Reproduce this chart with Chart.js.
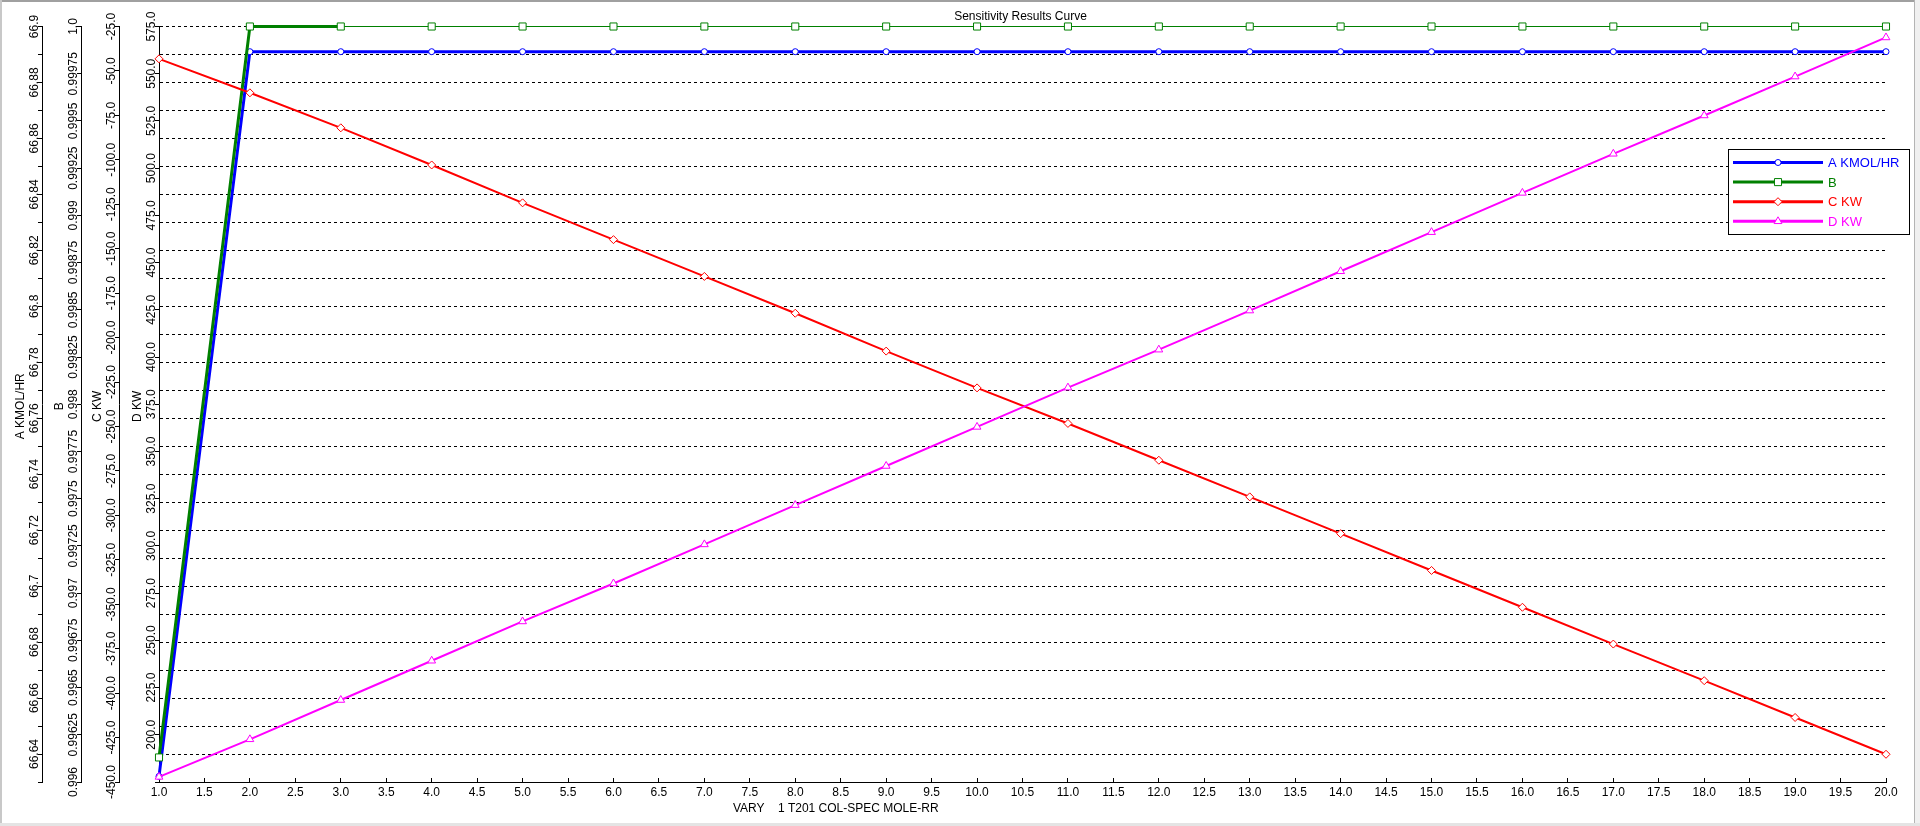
<!DOCTYPE html>
<html>
<head>
<meta charset="utf-8">
<title>Sensitivity Results Curve</title>
<script src="https://cdn.jsdelivr.net/npm/chart.js@4.4.1/dist/chart.umd.min.js"></script>
<style>
  html, body { margin: 0; padding: 0; background: #fff; overflow: hidden; }
  canvas { display: block; }
</style>
</head>
<body>
<canvas id="sensChart" width="1920" height="826"></canvas>
<script>
// VARY 1 T201 COL-SPEC MOLE-RR
const xValues = [1, 2, 3, 4, 5, 6, 7, 8, 9, 10, 11, 12, 13, 14, 15, 16, 17, 18, 19, 20];

// series values
const aValues = [66.632, 66.891, 66.891, 66.891, 66.891, 66.891, 66.891, 66.891, 66.891, 66.891,
                 66.891, 66.891, 66.891, 66.891, 66.891, 66.891, 66.891, 66.891, 66.891, 66.891];
const bValues = [0.99613, 1.0, 1.0, 1.0, 1.0, 1.0, 1.0, 1.0, 1.0, 1.0,
                 1.0, 1.0, 1.0, 1.0, 1.0, 1.0, 1.0, 1.0, 1.0, 1.0];
const cValues = [-43.2, -62.3, -82.0, -102.9, -124.2, -144.9, -165.6, -186.3, -207.6, -228.3,
                 -248.3, -269.0, -289.6, -310.3, -331.0, -351.7, -372.4, -393.0, -413.7, -434.4];
const dValues = [177.7, 197.6, 218.4, 239.2, 260.0, 280.1, 300.8, 321.6, 342.3, 363.0,
                 383.8, 403.9, 424.6, 445.4, 466.1, 486.9, 507.6, 527.9, 548.5, 569.2];

const seriesNames = ['A KMOL/HR', 'B', 'C KW', 'D KW'];
const seriesColors = ['#0000ff', '#008000', '#ff0000', '#ff00ff'];

// tick labels on the four left axes (plus unlabelled tick marks)
const aTickLabels = ['66.9', '66.88', '66.86', '66.84', '66.82', '66.8', '66.78', '66.76', '66.74',
                     '66.72', '66.7', '66.68', '66.66', '66.64'];
const aMinorTicks = [66.89, 66.87, 66.85, 66.83, 66.81, 66.79, 66.77, 66.75, 66.73, 66.71,
                     66.69, 66.67, 66.65, 66.63];
const bTickLabels = ['1.0', '0.99975', '0.9995', '0.99925', '0.999', '0.99875', '0.9985', '0.99825',
                     '0.998', '0.99775', '0.9975', '0.99725', '0.997', '0.99675', '0.9965', '0.99625', '0.996'];
const cTickLabels = ['-25.0', '-50.0', '-75.0', '-100.0', '-125.0', '-150.0', '-175.0', '-200.0', '-225.0',
                     '-250.0', '-275.0', '-300.0', '-325.0', '-350.0', '-375.0', '-400.0', '-425.0', '-450.0'];
const dTickLabels = ['575.0', '550.0', '525.0', '500.0', '475.0', '450.0', '425.0', '400.0', '375.0',
                     '350.0', '325.0', '300.0', '275.0', '250.0', '225.0', '200.0'];
const dMinorTicks = [175];

const FONT = '"Liberation Sans", Arial, sans-serif';

function pts(values) {
    return xValues.map((x, i) => ({ x: x, y: values[i] }));
}

// one left-hand value axis; ticks come from the label arrays
function leftAxis(min, max, tickValues, width, weight, onChart) {
    return {
        type: 'linear',
        position: 'left',
        min: min,
        max: max,
        weight: weight,
        afterBuildTicks: s => { s.ticks = tickValues.slice().sort((a, b) => a - b).map(v => ({ value: v })); },
        afterFit: s => { s.width = width; },
        ticks: { display: false },
        grid: {
            drawOnChartArea: onChart,
            tickLength: 4,
            color: '#000',
            tickColor: '#000',
            tickBorderDash: []
        },
        border: { display: true, color: '#000', width: 1, dash: onChart ? [3, 3] : [] }
    };
}

const axisDefs = [
    { id: 'yA', labels: aTickLabels, title: seriesNames[0] },
    { id: 'yB', labels: bTickLabels, title: seriesNames[1] },
    { id: 'yC', labels: cTickLabels, title: seriesNames[2] },
    { id: 'yD', labels: dTickLabels, title: seriesNames[3] }
];

function marker(ctx, style, x, y, r, color) {
    ctx.save();
    ctx.beginPath();
    if (style === 'circle') {
        ctx.arc(x, y, r, 0, Math.PI * 2);
    } else if (style === 'rect') {
        const h = r * Math.SQRT1_2;
        ctx.rect(x - h, y - h, 2 * h, 2 * h);
    } else if (style === 'rectRot') {
        ctx.moveTo(x - r, y); ctx.lineTo(x, y - r); ctx.lineTo(x + r, y); ctx.lineTo(x, y + r);
        ctx.closePath();
    } else {
        ctx.moveTo(x, y - r);
        ctx.lineTo(x + r * 0.866, y + r / 2);
        ctx.lineTo(x - r * 0.866, y + r / 2);
        ctx.closePath();
    }
    ctx.fillStyle = '#fff';
    ctx.fill();
    ctx.lineWidth = 1;
    ctx.strokeStyle = color;
    ctx.stroke();
    ctx.restore();
}

const overlay = {
    id: 'overlay',
    beforeDraw(chart) {
        const ctx = chart.ctx;
        ctx.save();
        ctx.fillStyle = '#fff';
        ctx.fillRect(0, 0, chart.width, chart.height);
        ctx.restore();
    },
    afterDraw(chart) {
        const ctx = chart.ctx;
        const area = chart.chartArea;

        // rotated tick labels and titles of the left axes
        axisDefs.forEach(def => {
            const s = chart.scales[def.id];
            ctx.save();
            ctx.fillStyle = '#000';
            ctx.font = '12px ' + FONT;
            ctx.textAlign = 'center';
            ctx.textBaseline = 'middle';
            def.labels.forEach(t => {
                const y = s.getPixelForValue(parseFloat(t));
                ctx.save();
                ctx.translate(s.right - 7.5, y);
                ctx.rotate(-Math.PI / 2);
                ctx.fillText(t, 0, 0);
                ctx.restore();
            });
            ctx.translate(s.right - 21, (s.top + s.bottom) / 2 + 2);
            ctx.rotate(-Math.PI / 2);
            ctx.fillText(def.title, 0, 0);
            ctx.restore();
        });

        // chart title and x axis title
        ctx.save();
        ctx.fillStyle = '#000';
        ctx.font = '12px ' + FONT;
        ctx.textBaseline = 'alphabetic';
        ctx.textAlign = 'center';
        ctx.fillText('Sensitivity Results Curve', (area.left + area.right) / 2 - 2, 20);
        ctx.textAlign = 'left';
        ctx.fillText('VARY    1 T201 COL-SPEC MOLE-RR', 733, 812);
        ctx.restore();

        // legend
        const styles = chart.data.datasets.map(d => d.pointStyle);
        ctx.save();
        ctx.fillStyle = '#fff';
        ctx.fillRect(1728, 149, 181, 85);
        ctx.strokeStyle = '#000';
        ctx.lineWidth = 1;
        ctx.strokeRect(1728.5, 149.5, 181, 85);
        ctx.font = '13px ' + FONT;
        ctx.textAlign = 'left';
        ctx.textBaseline = 'middle';
        seriesNames.forEach((name, i) => {
            const y = 162.5 + i * 19.6;
            ctx.strokeStyle = seriesColors[i];
            ctx.lineWidth = 3;
            ctx.beginPath();
            ctx.moveTo(1733, y);
            ctx.lineTo(1823, y);
            ctx.stroke();
            marker(ctx, styles[i], 1778, y, chart.data.datasets[i].pointRadius, seriesColors[i]);
            ctx.fillStyle = seriesColors[i];
            ctx.fillText(name, 1828, y + 1);
        });
        ctx.restore();

        // window frame
        ctx.save();
        ctx.fillStyle = '#a0a0a0';
        ctx.fillRect(0, 0, chart.width, 2);
        ctx.fillStyle = '#c8c8c8';
        ctx.fillRect(0, 0, 2, chart.height);
        ctx.fillStyle = '#b4b4b4';
        ctx.fillRect(1914, 0, 1, chart.height);
        ctx.fillStyle = '#f0f0f0';
        ctx.fillRect(1915, 0, 5, chart.height);
        ctx.fillStyle = '#e4e4e4';
        ctx.fillRect(0, 823, chart.width, 3);
        ctx.restore();
    }
};

new Chart(document.getElementById('sensChart'), {
    type: 'line',
    data: {
        datasets: [
            {
                label: seriesNames[0], data: pts(aValues), yAxisID: 'yA', order: 4, clip: 12,
                borderColor: seriesColors[0], borderWidth: 3,
                pointStyle: 'circle', pointRadius: 3, pointBorderWidth: 1,
                pointBorderColor: seriesColors[0], pointBackgroundColor: '#fff'
            },
            {
                label: seriesNames[1], data: pts(bValues), yAxisID: 'yB', order: 3, clip: 12,
                borderColor: seriesColors[1], borderWidth: 3,
                segment: { borderWidth: c => c.p0DataIndex < 2 ? 3 : 1 },
                pointStyle: 'rect', pointRadius: 5, pointBorderWidth: 1,
                pointBorderColor: seriesColors[1], pointBackgroundColor: '#fff'
            },
            {
                label: seriesNames[2], data: pts(cValues), yAxisID: 'yC', order: 2, clip: 12,
                borderColor: seriesColors[2], borderWidth: 2,
                pointStyle: 'rectRot', pointRadius: 4, pointBorderWidth: 1,
                pointBorderColor: seriesColors[2], pointBackgroundColor: '#fff'
            },
            {
                label: seriesNames[3], data: pts(dValues), yAxisID: 'yD', order: 1, clip: 12,
                borderColor: seriesColors[3], borderWidth: 2,
                pointStyle: 'triangle', pointRadius: 4.5, pointBorderWidth: 1,
                pointBorderColor: seriesColors[3], pointBackgroundColor: '#fff'
            }
        ]
    },
    options: {
        responsive: false,
        devicePixelRatio: 1,
        animation: false,
        events: [],
        layout: { padding: { left: 0, right: 34, top: 26.5, bottom: 0 } },
        plugins: {
            legend: { display: false },
            title: { display: false },
            tooltip: { enabled: false }
        },
        elements: { line: { tension: 0 } },
        scales: {
            x: {
                type: 'linear',
                position: 'bottom',
                min: 1,
                max: 20,
                afterFit: s => { s.height = 44; },
                ticks: {
                    stepSize: 0.5,
                    autoSkip: false,
                    maxRotation: 0,
                    minRotation: 0,
                    padding: 7,
                    color: '#000',
                    font: { family: FONT, size: 12 },
                    callback: v => Number(v).toFixed(1)
                },
                grid: { drawOnChartArea: false, tickLength: -4, color: '#000' },
                border: { color: '#000', width: 1 }
            },
            yA: leftAxis(66.63, 66.9, aTickLabels.map(parseFloat).concat(aMinorTicks), 42, 4, true),
            yB: leftAxis(0.996, 1.0, bTickLabels.map(parseFloat), 39, 3, false),
            yC: leftAxis(-450, -25, cTickLabels.map(parseFloat), 38, 2, false),
            yD: leftAxis(175, 575, dTickLabels.map(parseFloat).concat(dMinorTicks), 40, 1, false)
        }
    },
    plugins: [overlay]
});
</script>
</body>
</html>
